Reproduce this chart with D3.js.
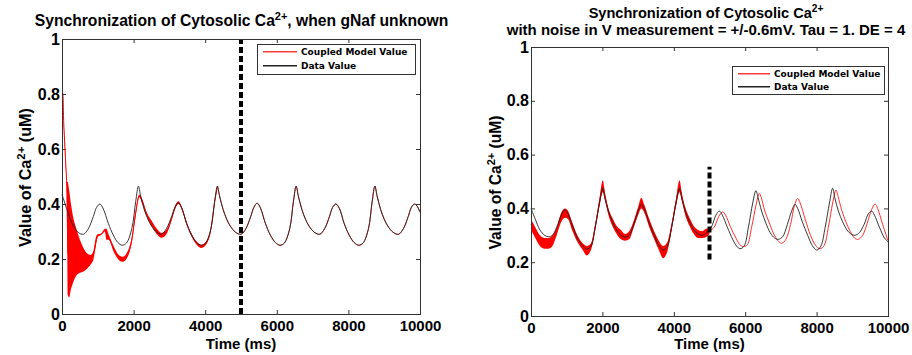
<!DOCTYPE html>
<html>
<head>
<meta charset="utf-8">
<script src="https://cdn.jsdelivr.net/npm/d3@7"></script>
<style>
  body { margin: 0; background: #fff; }
  svg { display: block; font-family: "Liberation Sans", Arial, sans-serif; }
</style>
</head>
<body>
<svg id="chart" width="912" height="355"></svg>
<script>
// x ticks / y ticks shared by both panels
const xTicks = [0, 2000, 4000, 6000, 8000, 10000];
const yTicks = [0, 0.2, 0.4, 0.6, 0.8, 1];
const legendLabels = ["Coupled Model Value", "Data Value"];
const legendColors = ["#ff3c3c", "#222222"];

// ---- left panel: gNaf unknown ----
// data value (black), [time ms, Ca uM]
const leftData = [
  [0,0.435],[150,0.375],[300,0.325],[450,0.297],[600,0.29],[735,0.31],
  [874,0.354],[967,0.388],[1060,0.40],[1154,0.382],[1293,0.33],[1432,0.287],[1560,0.26],[1680,0.25],
  [1800,0.258],[1950,0.31],[2060,0.41],[2135,0.465],[2195,0.43],[2295,0.38],[2400,0.345],[2500,0.32],[2650,0.297],[2780,0.29],
  [2915,0.31],[3060,0.354],[3155,0.388],[3250,0.405],[3345,0.385],[3480,0.33],[3620,0.287],[3760,0.26],[3890,0.25],
  [4010,0.258],[4160,0.31],[4265,0.41],[4340,0.465],[4400,0.43],[4500,0.38],[4600,0.345],[4700,0.32],[4850,0.297],[5000,0.29],
  [5135,0.31],[5270,0.354],[5360,0.388],[5450,0.403],[5545,0.385],[5680,0.33],[5820,0.287],[5960,0.26],[6090,0.25],
  [6210,0.258],[6360,0.31],[6465,0.41],[6540,0.465],[6600,0.43],[6700,0.38],[6800,0.345],[6900,0.32],[7050,0.297],[7200,0.29],
  [7335,0.31],[7470,0.354],[7560,0.388],[7650,0.40],[7745,0.385],[7880,0.33],[8020,0.287],[8160,0.26],[8290,0.25],
  [8410,0.258],[8560,0.31],[8665,0.41],[8740,0.465],[8800,0.43],[8900,0.38],[9000,0.345],[9100,0.32],[9250,0.297],[9400,0.29],
  [9535,0.31],[9670,0.354],[9760,0.388],[9850,0.40],[9930,0.39],[10000,0.37]
];
// coupled model (red) while it is still converging, [time, low, high]
const leftModelHead = [
  [0,0.78,0.83],[20,0.79,0.82],[50,0.68,0.70],[80,0.60,0.62],[110,0.52,0.54],[135,0.44,0.48],
  [160,0.07,0.48],[200,0.06,0.45],[250,0.09,0.40],[300,0.11,0.36],[400,0.14,0.31],[500,0.15,0.27],
  [600,0.155,0.24],[700,0.165,0.22],[800,0.18,0.215],[880,0.20,0.23],[950,0.25,0.28],[1000,0.28,0.29],
  [1100,0.288,0.293],[1200,0.30,0.31],[1240,0.27,0.31],[1300,0.27,0.29],[1450,0.225,0.245],[1600,0.195,0.213],
  [1700,0.19,0.208],[1800,0.20,0.22],[1950,0.26,0.28],[2050,0.35,0.37],[2160,0.425,0.435],[2250,0.40,0.415],
  [2350,0.36,0.375],[2500,0.32,0.34],[2650,0.29,0.31],[2780,0.277,0.295],[2915,0.29,0.306],[3060,0.34,0.354],
  [3155,0.38,0.392],[3250,0.40,0.41],[3345,0.38,0.39],[3480,0.325,0.335],[3620,0.282,0.292],[3760,0.252,0.264],
  [3890,0.24,0.252],[4010,0.25,0.262],[4160,0.305,0.315],[4265,0.405,0.412],[4340,0.46,0.465]
];

// ---- right panel: noisy V measurement ----
const rightData = [
  [0,0.40],[120,0.36],[250,0.32],[380,0.30],[485,0.295],[600,0.30],[720,0.33],[850,0.375],[940,0.394],[1020,0.385],
  [1150,0.34],[1300,0.29],[1450,0.26],[1560,0.249],[1680,0.26],[1800,0.33],[1920,0.42],[2010,0.475],[2070,0.44],
  [2170,0.39],[2280,0.35],[2400,0.32],[2520,0.30],[2633,0.293],[2750,0.30],[2880,0.34],[3000,0.39],[3090,0.415],
  [3170,0.40],[3300,0.35],[3450,0.30],[3580,0.262],[3700,0.245],[3820,0.26],[3940,0.33],[4060,0.42],[4160,0.475],
  [4220,0.44],[4320,0.39],[4440,0.35],[4560,0.32],[4680,0.305],[4800,0.30],[4920,0.31],[5050,0.33],[5180,0.375],
  [5275,0.39],[5360,0.375],[5500,0.33],[5650,0.285],[5760,0.26],[5854,0.25],[5970,0.26],[6090,0.33],[6210,0.42],
  [6300,0.466],[6360,0.44],[6460,0.39],[6580,0.345],[6700,0.31],[6820,0.29],[6928,0.285],[7050,0.295],[7180,0.34],
  [7300,0.39],[7395,0.415],[7470,0.40],[7600,0.35],[7750,0.30],[7880,0.262],[8002,0.245],[8120,0.26],[8240,0.33],
  [8360,0.42],[8450,0.475],[8510,0.44],[8610,0.39],[8730,0.35],[8850,0.32],[8960,0.305],[9076,0.30],[9200,0.31],
  [9330,0.34],[9450,0.38],[9543,0.39],[9620,0.375],[9760,0.33],[9900,0.29],[10000,0.276]
];
// coupled model with noisy input, [time, low, high]
const rightModelNoisy = [
  [0,0.32,0.36],[120,0.29,0.33],[250,0.26,0.30],[380,0.25,0.29],[485,0.25,0.29],[600,0.26,0.30],[720,0.30,0.33],
  [850,0.35,0.385],[960,0.365,0.40],[1040,0.36,0.39],[1150,0.32,0.35],[1300,0.275,0.30],[1450,0.245,0.27],
  [1560,0.225,0.26],[1680,0.245,0.27],[1800,0.32,0.345],[1920,0.41,0.44],[2010,0.46,0.505],[2070,0.43,0.46],
  [2170,0.375,0.40],[2280,0.335,0.365],[2400,0.305,0.335],[2520,0.285,0.32],[2633,0.28,0.305],[2750,0.285,0.315],
  [2880,0.33,0.355],[3000,0.375,0.405],[3090,0.40,0.44],[3170,0.385,0.415],[3300,0.335,0.365],[3450,0.285,0.315],
  [3580,0.245,0.28],[3700,0.215,0.26],[3820,0.24,0.275],[3940,0.32,0.345],[4060,0.405,0.435],[4160,0.46,0.505],
  [4220,0.43,0.46],[4320,0.375,0.405],[4440,0.335,0.365],[4560,0.305,0.335],[4680,0.29,0.32],[4800,0.29,0.315],
  [4920,0.295,0.325],[5000,0.305,0.325]
];
// coupled model after the switch (prediction only)
const rightModelFree = [
  [5000,0.315],[5130,0.33],[5260,0.37],[5369,0.387],[5450,0.375],[5590,0.33],[5740,0.29],[5850,0.265],[5947,0.258],
  [6060,0.265],[6180,0.33],[6300,0.41],[6395,0.456],[6450,0.44],[6550,0.39],[6680,0.345],[6800,0.305],[6920,0.28],
  [7022,0.27],[7140,0.285],[7270,0.34],[7380,0.41],[7470,0.437],[7540,0.42],[7680,0.36],[7830,0.30],[7970,0.263],
  [8095,0.25],[8210,0.262],[8330,0.33],[8450,0.42],[8543,0.468],[8600,0.445],[8700,0.395],[8820,0.35],[8940,0.315],
  [9060,0.29],[9168,0.285],[9290,0.30],[9420,0.345],[9540,0.395],[9636,0.416],[9710,0.40],[9850,0.34],[10000,0.28]
];

// where the estimation stops (time, y from, y to)
const leftSwitch = [5000, 0, 1];
const rightSwitch = [5000, 0.21, 0.555];

const svg = d3.select("#chart");

// build "text Ca2+ text" with a superscript
function caText(sel, before, after) {
  sel.append("tspan").text(before);
  sel.append("tspan").attr("dy", -6).style("font-size", "0.7em").text("2+");
  sel.append("tspan").attr("dy", 6).text(after);
}

// shrink / grow a text to a wanted width
function fitWidth(sel, size, target) {
  sel.style("font-size", size + "px");
  let w = sel.node().getBBox().width;
  sel.style("font-size", (size * target / w).toFixed(2) + "px");
}

function drawPanel(p) {
  let x = d3.scaleLinear().domain([0, 10000]).range([p.x0, p.x1]);
  let y = d3.scaleLinear().domain([0, 1]).range([p.y1, p.y0]);
  let g = svg.append("g");
  let w = p.x1 - p.x0, h = p.y1 - p.y0;

  // titel lines
  p.title.forEach((line, i) => {
    let t = g.append("text")
      .attr("x", p.titleX).attr("y", p.titleY[i])
      .attr("text-anchor", "middle")
      .style("font-weight", "bold");
    if (line.length === 1) t.text(line[0]);
    else caText(t, line[0], line[1]);
    fitWidth(t, 14, p.titleW[i]);
  });

  // axes (ticks inside, MATLAB box)
  let axB = g.append("g").attr("transform", `translate(0,${p.y1})`)
    .call(d3.axisBottom(x).tickValues(xTicks).tickSize(-4).tickPadding(6).tickFormat(d3.format("d")));
  axB.selectAll("text").style("font-size", "15px").style("font-weight", "bold").attr("fill", "#000");
  let axL = g.append("g").attr("transform", `translate(${p.x0},0)`)
    .call(d3.axisLeft(y).tickValues(yTicks).tickSize(-4).tickPadding(2).tickFormat(d => d === 0 || d === 1 ? d : d3.format(".1f")(d)));
  axL.selectAll("text").style("font-size", "16px").style("font-weight", "bold").attr("fill", "#000");
  g.append("g").attr("transform", `translate(0,${p.y0})`)
    .call(d3.axisTop(x).tickValues(xTicks).tickSize(-4).tickFormat(""));
  g.append("g").attr("transform", `translate(${p.x1},0)`)
    .call(d3.axisRight(y).tickValues(yTicks).tickSize(-4).tickFormat(""));
  g.selectAll(".domain").remove();
  g.selectAll(".tick line").attr("stroke", "#333");

  // red model
  let area = d3.area().x(d => x(d[0])).y0(d => y(d[1])).y1(d => y(d[2])).curve(d3.curveMonotoneX);
  let mid = d3.line().x(d => x(d[0])).y(d => y((d[1] + d[2]) / 2)).curve(d3.curveMonotoneX);
  g.append("path").datum(p.noisy).attr("d", area).attr("fill", "#ff0000");
  g.append("path").datum(p.noisy).attr("d", mid).attr("fill", "none").attr("stroke", "#ff0000").attr("stroke-width", 1);
  let line = d3.line().x(d => x(d[0])).y(d => y(d[1])).curve(d3.curveCatmullRom.alpha(0.5));
  g.append("path").datum(p.free).attr("d", line).attr("fill", "none").attr("stroke", "#ff3030").attr("stroke-width", 1);

  // black data
  g.append("path").datum(p.data).attr("d", line).attr("fill", "none").attr("stroke", "#222").attr("stroke-width", 0.9);

  // switch marker
  g.append("line")
    .attr("x1", x(p.sw[0])).attr("x2", x(p.sw[0]))
    .attr("y1", y(p.sw[1])).attr("y2", y(p.sw[2]))
    .attr("stroke", "#000").attr("stroke-width", 4).attr("stroke-dasharray", "6,3");

  // box
  g.append("rect").attr("x", p.x0 + 0.5).attr("y", p.y0 + 0.5).attr("width", w).attr("height", h)
    .attr("fill", "none").attr("stroke", "#333").attr("stroke-width", 1);

  // legend
  let L = p.legend;
  let lg = g.append("g");
  lg.append("rect").attr("x", L.x + 0.5).attr("y", L.y + 0.5).attr("width", L.w).attr("height", L.h)
    .attr("fill", "#fff").attr("stroke", "#333");
  legendLabels.forEach((lab, i) => {
    let ly = L.y + L.r[i];
    lg.append("rect")
      .attr("x", L.x + 6).attr("y", ly).attr("width", L.len).attr("height", 1.5)
      .attr("fill", legendColors[i]);
    lg.append("text").attr("x", L.x + 10 + L.len).attr("y", ly + 4)
      .style("font-family", "DejaVu Sans, sans-serif").style("font-size", "9px").style("font-weight", "bold")
      .text(lab);
  });

  // axis labels
  g.append("text").attr("x", (p.x0 + p.x1) / 2).attr("y", 349).attr("text-anchor", "middle")
    .style("font-size", "15px").style("font-weight", "bold").text("Time (ms)");
  let yl = g.append("text")
    .attr("transform", `translate(${p.yLabelX},${(p.y0 + p.y1) / 2 + 1}) rotate(-90)`)
    .attr("text-anchor", "middle").style("font-weight", "bold");
  caText(yl, "Value of Ca", " (uM)");
  fitWidth(yl, 15, p.yLabelW);
}

drawPanel({
  x0: 62, x1: 420, y0: 39, y1: 314,
  title: [["Synchronization of Cytosolic Ca", ", when gNaf unknown"]],
  titleX: 241.5, titleY: [26], titleW: [414],
  data: leftData,
  noisy: leftModelHead,
  free: leftData.filter(d => d[0] >= 4340),
  sw: leftSwitch,
  legend: { x: 257, y: 44, w: 158, h: 30, r: [7, 21], len: 34 },
  yLabelX: 31, yLabelW: 139
});

drawPanel({
  x0: 531, x1: 888, y0: 47, y1: 316,
  title: [["Synchronization of Cytosolic Ca", ""], ["with noise in V measurement = +/-0.6mV. Tau = 1. DE = 4"]],
  titleX: 706, titleY: [18, 35], titleW: [235, 400],
  data: rightData,
  noisy: rightModelNoisy,
  free: rightModelFree,
  sw: rightSwitch,
  legend: { x: 732, y: 66, w: 152, h: 28, r: [7, 20], len: 32 },
  yLabelX: 501, yLabelW: 134
});
</script>
</body>
</html>
